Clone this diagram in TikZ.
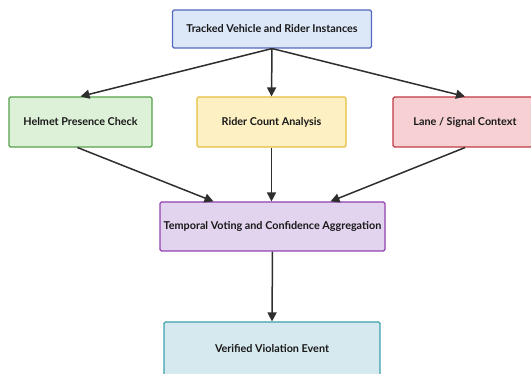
\documentclass[tikz,border=0pt]{standalone}
\usepackage{fontspec}
\setmainfont{Lato}
\usetikzlibrary{arrows.meta}

\definecolor{srcfill}{HTML}{DCE7F8}
\definecolor{srcline}{HTML}{5468C0}
\definecolor{helmfill}{HTML}{DDF1D8}
\definecolor{helmline}{HTML}{56A04C}
\definecolor{countfill}{HTML}{FDF0C2}
\definecolor{countline}{HTML}{E6BE3E}
\definecolor{lanefill}{HTML}{F6D0D2}
\definecolor{laneline}{HTML}{C03C44}
\definecolor{votefill}{HTML}{E2D3EE}
\definecolor{voteline}{HTML}{9242B2}
\definecolor{eventfill}{HTML}{D6E9EE}
\definecolor{eventline}{HTML}{3CA2AC}
\definecolor{arrowgray}{HTML}{2E2E2E}

\tikzset{
  stage/.style={draw, line width=1.1pt, rounded corners=1.5pt, align=center,
    inner sep=0pt, font=\fontsize{10.8}{12}\selectfont\bfseries, text=black!90},
  flow/.style={-{Triangle[length=9pt,width=9pt]}, line width=1.5pt, draw=arrowgray}
}

\begin{document}
\begin{tikzpicture}[x=1pt,y=-1pt]
  \useasboundingbox (0,0) rectangle (531,374);

  \node[stage, fill=srcfill, draw=srcline, minimum width=199pt, minimum height=38pt]
    (tracks) at (272,29) {Tracked Vehicle and Rider Instances};

  \node[stage, fill=helmfill, draw=helmline, minimum width=143pt, minimum height=50pt]
    (helmet) at (80.5,122) {Helmet Presence Check};
  \node[stage, fill=countfill, draw=countline, minimum width=149pt, minimum height=50pt]
    (count) at (271.5,122) {Rider Count Analysis};
  \node[stage, fill=lanefill, draw=laneline, minimum width=144pt, minimum height=50pt]
    (lane) at (465,122) {Lane / Signal Context};

  \node[stage, fill=votefill, draw=voteline, minimum width=225pt, minimum height=49pt]
    (voting) at (272.5,226.5) {Temporal Voting and Confidence Aggregation};

  \node[stage, fill=eventfill, draw=eventline, minimum width=216pt, minimum height=54pt]
    (event) at (272,349) {Verified Violation Event};

  % fan out from the tracker
  \draw[flow] (tracks.south) -- (helmet.north);
  \draw[flow] (tracks.south) -- (count.north);
  \draw[flow] (tracks.south) -- (lane.north);

  % merge into the voting stage
  \draw[flow] ([xshift=-3pt]helmet.south) -- ([xshift=-59pt]voting.north);
  \draw[flow] (count.south) -- (count.south |- voting.north);
  \draw[flow] (lane.south) -- ([xshift=58pt]voting.north);

  \draw[flow] (voting.south) -- (event.north);
\end{tikzpicture}
\end{document}
